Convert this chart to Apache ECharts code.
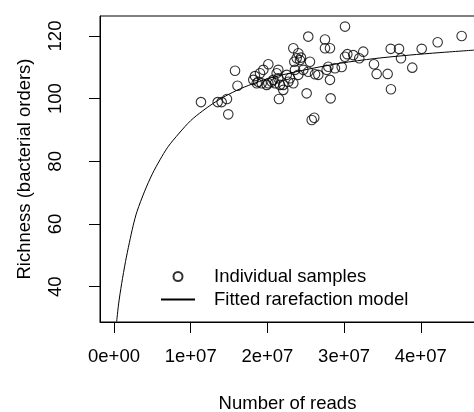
<!DOCTYPE html>
<html>
<head>
<meta charset="utf-8">
<script src="https://cdn.jsdelivr.net/npm/echarts@6/dist/echarts.min.js"></script>
<style>
  html, body { margin: 0; padding: 0; background: #fff; }
  #chart { width: 474px; height: 412px; }
</style>
</head>
<body>
<div id="chart"></div>
<script>
// individual samples (reads, richness)
var sampleReads = [
  1.134e7, 1.352e7, 1.404e7, 1.473e7, 1.490e7, 1.610e7, 1.578e7, 1.816e7, 1.838e7, 1.904e7,
  1.947e7, 2.012e7, 1.881e7, 1.861e7, 1.926e7, 2.012e7, 2.056e7, 2.099e7, 2.121e7, 2.142e7,
  2.207e7, 2.252e7, 2.273e7, 2.295e7, 2.338e7, 2.360e7, 2.382e7, 2.403e7, 2.207e7, 2.151e7,
  2.142e7, 2.077e7, 1.991e7, 2.164e7, 2.338e7, 2.425e7, 2.351e7, 2.555e7, 2.533e7, 2.751e7,
  2.751e7, 2.816e7, 3.012e7, 3.012e7, 3.042e7, 3.120e7, 3.198e7, 3.250e7, 2.969e7, 2.881e7,
  2.794e7, 2.773e7, 2.816e7, 2.533e7, 2.468e7, 2.403e7, 2.621e7, 2.664e7, 2.512e7, 2.825e7,
  2.578e7, 2.611e7, 3.608e7, 3.716e7, 3.742e7, 4.012e7, 4.220e7, 4.533e7, 3.390e7, 3.425e7,
  3.568e7, 3.889e7, 3.611e7, 2.438e7
];
var sampleRichness = [
  98.9, 98.9, 98.9, 99.9, 95.0, 104.1, 108.9, 106.0, 107.2, 108.1,
  109.2, 111.0, 105.4, 104.9, 104.9, 104.9, 105.4, 104.9, 108.1, 106.5,
  104.4, 107.6, 105.4, 106.5, 104.9, 109.2, 112.9, 114.5, 102.8, 99.9,
  109.2, 106.0, 104.4, 104.4, 116.1, 112.3, 111.8, 111.8, 119.8, 118.9,
  116.1, 116.1, 123.0, 113.4, 114.2, 113.9, 112.9, 115.0, 110.1, 109.7,
  110.2, 109.2, 106.0, 108.6, 109.2, 107.6, 107.8, 107.6, 101.7, 100.1,
  93.2, 93.9, 115.9, 115.9, 112.9, 115.9, 118.0, 120.0, 111.0, 107.9,
  107.9, 109.9, 103.0, 113.1
];

// fitted rarefaction model
var modelReads = [
  0.035e7, 0.06e7, 0.10e7, 0.15e7, 0.20e7, 0.25e7, 0.30e7, 0.40e7, 0.50e7, 0.60e7,
  0.70e7, 0.85e7, 1.00e7, 1.15e7, 1.30e7, 1.45e7, 1.65e7, 1.85e7, 2.05e7, 2.45e7,
  2.95e7, 3.40e7, 3.85e7, 4.25e7, 4.70e7
];
var modelRichness = [
  28.9, 34.5, 41.0, 48.0, 54.0, 59.5, 64.0, 70.5, 76.0, 80.5,
  84.5, 89.0, 93.0, 96.0, 98.6, 100.8, 103.2, 105.1, 106.7, 109.0,
  111.3, 112.8, 113.9, 114.7, 115.5
];

var xTicks = [0, 1e7, 2e7, 3e7, 4e7];
var xTickLabels = ['0e+00', '1e+07', '2e+07', '3e+07', '4e+07'];
var yTicks = [40, 60, 80, 100, 120];

var font = '"Liberation Sans", Arial, Helvetica, sans-serif';
var fs = 18.5;

function pairs(xs, ys) {
  var out = [];
  for (var i = 0; i < xs.length; i++) {
    out.push([xs[i], ys[i]]);
  }
  return out;
}

var myChart = echarts.init(document.getElementById('chart'), null, { renderer: 'canvas' });

var option = {
  animation: false,
  textStyle: { fontFamily: font },
  grid: {
    left: 100,
    right: -1,
    top: 16,
    bottom: 90,
    outerBoundsMode: 'none',
    containLabel: false,
    show: true,
    borderColor: '#000',
    borderWidth: 1,
    backgroundColor: 'transparent'
  },
  legend: {
    orient: 'vertical',
    left: 160,
    top: 265,
    padding: 0,
    itemGap: 0,
    itemWidth: 34,
    itemHeight: 9,
    textStyle: {
      fontFamily: font,
      fontSize: fs,
      color: '#000',
      lineHeight: 23,
      padding: [0, 0, 0, 14]
    },
    data: ['Individual samples', 'Fitted rarefaction model']
  },
  xAxis: {
    type: 'value',
    min: -1.825e6,
    max: 4.707e7,
    name: 'Number of reads',
    nameLocation: 'middle',
    nameGap: 72,
    nameTextStyle: { fontFamily: font, fontSize: fs, color: '#000' },
    splitLine: { show: false },
    axisLine: { show: true, onZero: false, lineStyle: { color: '#000', width: 1 } },
    axisTick: {
      show: true,
      length: 11,
      customValues: xTicks,
      lineStyle: { color: '#000', width: 1 }
    },
    axisLabel: {
      customValues: xTicks,
      margin: 25,
      fontFamily: font,
      fontSize: fs,
      color: '#000',
      formatter: function (v) {
        var i = xTicks.indexOf(v);
        return i >= 0 ? xTickLabels[i] : '';
      }
    }
  },
  yAxis: {
    type: 'value',
    min: 28.74,
    max: 126.38,
    name: 'Richness (bacterial orders)',
    nameLocation: 'middle',
    nameGap: 66,
    nameTextStyle: { fontFamily: font, fontSize: fs, color: '#000' },
    splitLine: { show: false },
    axisLine: { show: true, onZero: false, lineStyle: { color: '#000', width: 1 } },
    axisTick: {
      show: true,
      length: 11,
      customValues: yTicks,
      lineStyle: { color: '#000', width: 1 }
    },
    axisLabel: {
      customValues: yTicks,
      rotate: 90,
      margin: 35,
      fontFamily: font,
      fontSize: fs,
      color: '#000'
    }
  },
  series: [
    {
      name: 'Individual samples',
      type: 'scatter',
      symbol: 'circle',
      symbolSize: 9.5,
      itemStyle: {
        color: 'rgba(0,0,0,0)',
        borderColor: '#000',
        borderWidth: 1.1
      },
      z: 3,
      data: pairs(sampleReads, sampleRichness)
    },
    {
      name: 'Fitted rarefaction model',
      type: 'line',
      smooth: 0.3,
      symbol: 'none',
      showSymbol: false,
      clip: true,
      itemStyle: { color: 'rgba(0,0,0,0)' },
      lineStyle: { color: '#000', width: 1 },
      z: 2,
      data: pairs(modelReads, modelRichness)
    }
  ]
};

myChart.setOption(option);
</script>
</body>
</html>
